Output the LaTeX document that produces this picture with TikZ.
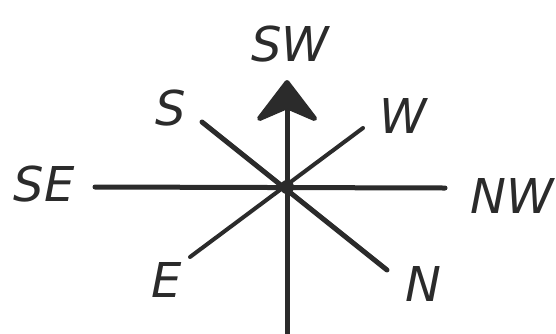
\documentclass[tikz,border=0pt]{standalone}
\usepackage{fontspec}
\setmainfont{DejaVu Sans}
\usetikzlibrary{arrows.meta}
\definecolor{ink}{HTML}{2B2B2B}
\tikzset{
  lbl/.style={font=\fontsize{48}{48}\selectfont\itshape, text=ink, inner sep=0pt},
  ray/.style={draw=ink, line width=5pt, line cap=round},
  thinray/.style={draw=ink, line width=4pt, line cap=round},
}
\begin{document}
\begin{tikzpicture}[x=1pt,y=-1pt]
\useasboundingbox[fill=white] (0,0) rectangle (556,333);
\coordinate (c) at (287,187);
\coordinate (up) at (287,80);
\coordinate (down) at (287,336);
\coordinate (left) at (95,187);
\coordinate (right) at (445,188);
\coordinate (sEnd) at (202,122);
\coordinate (nEnd) at (387,270);
\coordinate (wEnd) at (363,128);
\coordinate (eEnd) at (190,257);
\node[lbl] (SW) at (290,44) {SW};
\node[lbl] (S) at (171,108) {S};
\node[lbl] (W) at (403,116) {W};
\node[lbl] (SE) at (44,184) {SE};
\node[lbl] (NW) at (512,196) {NW};
\node[lbl] (E) at (167,280) {E};
\node[lbl] (N) at (423,284) {N};
\draw[ray] (left) -- (right);
\draw[ray] (sEnd) -- (nEnd);
\draw[thinray] (eEnd) -- (wEnd);
\draw[ray, -{Stealth[length=46pt,width=70pt,inset=15pt,round]}] (down) -- (up);
\fill[ink] (c) circle (7pt);
\end{tikzpicture}
\end{document}
